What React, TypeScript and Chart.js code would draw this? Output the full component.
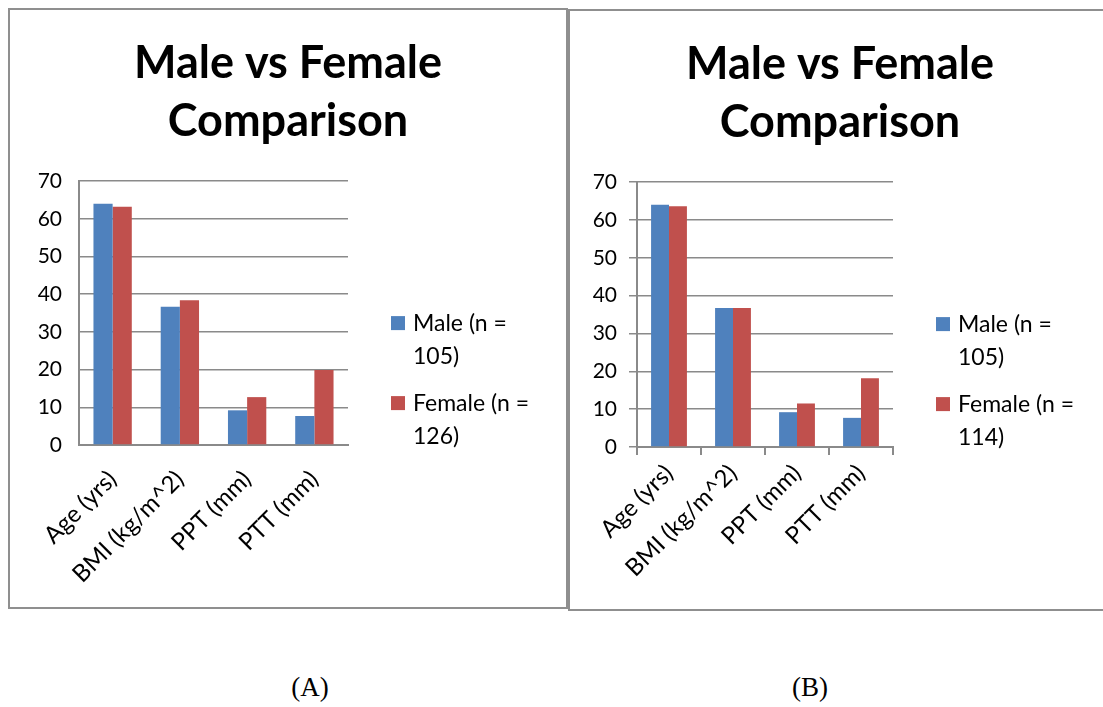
import React, { useEffect, useRef } from "react";
import { Chart, registerables } from "chart.js";

Chart.register(...registerables);

const categories = ["Age (yrs)", "BMI (kg/m^2)", "PPT (mm)", "PTT (mm)"];
const titleLines = ["Male vs Female", "Comparison"];
const maleA = [64.0, 36.7, 9.2, 7.7];
const femaleA = [63.2, 38.4, 12.7, 19.9];
const maleB = [64.0, 36.7, 9.2, 7.7];
const femaleB = [63.6, 36.7, 11.5, 18.2];
const maleLabelA = "Male (n = 105)";
const femaleLabelA = "Female (n = 126)";
const maleLabelB = "Male (n = 105)";
const femaleLabelB = "Female (n = 114)";
const yTicks = [0, 10, 20, 30, 40, 50, 60, 70];

const FONT = "Lato, 'Open Sans', sans-serif";
const BLUE = "#4F81BD";
const RED = "#C0504D";
const GRID = "#8a8a8a";

const wrappedLegend = {
  id: "wrappedLegend",
  afterDraw(chart: any, _args: any, opts: any) {
    const { ctx, chartArea } = chart;
    const x0 = chartArea.right + opts.offsetX;
    let y = chartArea.top + opts.offsetY;
    ctx.save();
    chart.data.datasets.forEach((ds: any) => {
      const lines = String(ds.label).split(/(?<== )/);
      ctx.fillStyle = ds.backgroundColor;
      ctx.fillRect(x0, y - 7, 14, 14);
      ctx.fillStyle = "#000";
      ctx.font = `23px ${FONT}`;
      ctx.textBaseline = "middle";
      ctx.textAlign = "left";
      lines.forEach((l: string, j: number) => ctx.fillText(l.trim(), x0 + 22, y + j * 33));
      y += 80;
    });
    ctx.restore();
  },
};

type Props = {
  male: number[];
  female: number[];
  maleLabel: string;
  femaleLabel: string;
  width: number;
  height: number;
  yWidth: number;
  padRight: number;
  catPct: number;
  withTicks: boolean;
};

function BarChart(p: Props) {
  const ref = useRef<HTMLCanvasElement>(null);
  useEffect(() => {
    if (!ref.current) return;
    const chart = new Chart(ref.current, {
      type: "bar",
      data: {
        labels: categories,
        datasets: [
          { label: p.maleLabel, data: p.male, backgroundColor: BLUE, categoryPercentage: p.catPct, barPercentage: 1 },
          { label: p.femaleLabel, data: p.female, backgroundColor: RED, categoryPercentage: p.catPct, barPercentage: 1 },
        ],
      },
      options: {
        animation: false,
        responsive: false,
        maintainAspectRatio: false,
        layout: { padding: 0 },
        plugins: {
          legend: { display: false },
          tooltip: { enabled: false },
          title: {
            display: true,
            text: titleLines,
            color: "#000",
            font: { family: FONT, size: 45, weight: "bold", lineHeight: 1.29 },
            padding: { top: 24, bottom: 31 },
          },
          wrappedLegend: { offsetX: 43, offsetY: 142 },
        } as any,
        scales: {
          x: {
            grid: {
              display: p.withTicks,
              drawOnChartArea: false,
              drawTicks: true,
              tickLength: 8,
              color: GRID,
              lineWidth: 2,
            },
            border: { color: GRID, width: 2 },
            ticks: {
              minRotation: 45,
              maxRotation: 45,
              color: "#000",
              padding: p.withTicks ? 4 : 12,
              font: { family: FONT, size: 24 },
            },
            afterFit: (s: any) => {
              s.height = 162;
            },
          },
          y: {
            min: 0,
            max: 70,
            afterBuildTicks: (s: any) => {
              s.ticks = yTicks.map((v) => ({ value: v }));
            },
            grid: {
              color: GRID,
              lineWidth: 1.5,
              drawTicks: p.withTicks,
              tickLength: 8,
            },
            border: { color: GRID, width: 2 },
            ticks: {
              color: "#000",
              padding: p.withTicks ? 12 : 17,
              font: { family: FONT, size: 21 },
            },
            afterFit: (s: any) => {
              s.width = p.yWidth;
            },
          },
          legendSpace: {
            type: "linear",
            position: "right",
            display: true,
            grid: { display: false },
            border: { display: false },
            ticks: { display: false },
            afterFit: (s: any) => {
              s.width = p.padRight;
            },
          },
        } as any,
      },
      plugins: [wrappedLegend],
    });
    return () => chart.destroy();
  }, []);
  return <canvas ref={ref} width={p.width} height={p.height} style={{ display: "block", width: p.width, height: p.height }} />;
}

export default function App() {
  const caption = { position: "absolute" as const, width: 100, top: 672, textAlign: "center" as const, fontFamily: "'Liberation Serif', 'Times New Roman', serif", fontSize: 27 };
  return (
    <div style={{ position: "absolute", left: 0, top: 0, width: 1103, height: 707, overflow: "hidden", background: "#fff" }}>
      <div style={{ position: "absolute", left: 8, top: 8, width: 556, height: 597, border: "2px solid #8f8f8f" }}>
        <BarChart male={maleA} female={femaleA} maleLabel={maleLabelA} femaleLabel={femaleLabelA}
          width={556} height={597} yWidth={69} padRight={218} catPct={0.57} withTicks={false} />
      </div>
      <div style={{ position: "absolute", left: 568, top: 9, width: 540, height: 598, border: "2px solid #8f8f8f" }}>
        <BarChart male={maleB} female={femaleB} maleLabel={maleLabelB} femaleLabel={femaleLabelB}
          width={540} height={598} yWidth={67} padRight={217} catPct={0.56} withTicks={true} />
      </div>
      <div style={{ ...caption, left: 260 }}>(A)</div>
      <div style={{ ...caption, left: 760 }}>(B)</div>
    </div>
  );
}
